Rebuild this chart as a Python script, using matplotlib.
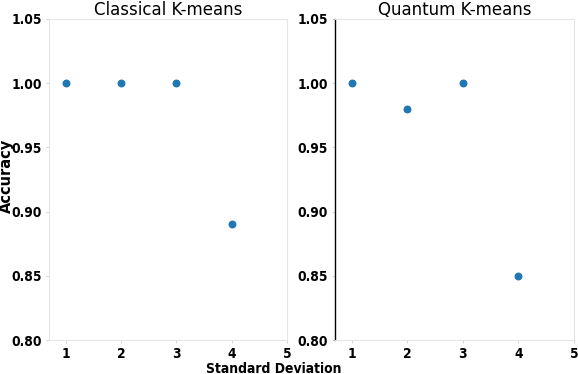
import numpy as np
import matplotlib.pyplot as plt

std_dev = [1, 2, 3, 4]
classical_acc = [1.00, 1.00, 1.00, 0.89]
quantum_acc = [1.00, 0.98, 1.00, 0.85]
titles = ['Classical K-means', 'Quantum K-means']
yticks = [0.80, 0.85, 0.90, 0.95, 1.00, 1.05]
xticks = [1, 2, 3, 4, 5]

fig = plt.figure(figsize=(5.78, 3.74), dpi=100)
ax1 = fig.add_axes([0.0848, 0.0909, 0.4117, 0.8583])
ax2 = fig.add_axes([0.5796, 0.0909, 0.4134, 0.8583])

for ax, acc, title in zip([ax1, ax2], [classical_acc, quantum_acc], titles):
    ax.scatter(std_dev, acc, s=22, color='#1f77b4', zorder=3)
    ax.set_xlim(0.7, 5)
    ax.set_ylim(0.80, 1.05)
    ax.set_xticks(xticks)
    ax.set_yticks(yticks)
    ax.set_yticklabels(['%.2f' % v for v in yticks])
    ax.set_title(title, fontsize=12, pad=3, fontstretch='semi-condensed')
    for lab in ax.get_xticklabels() + ax.get_yticklabels():
        lab.set_fontweight('bold')
        lab.set_fontsize(9.8)
        lab.set_fontstretch('condensed')
    ax.tick_params(length=2, width=0.6, color='#cccccc', pad=3)
    for sp in ax.spines.values():
        sp.set_color('#e6e6e6')
        sp.set_linewidth(0.8)

ax2.spines['left'].set_color('black')
ax2.spines['left'].set_linewidth(1.0)

fig.text(0.011, 0.53, 'Accuracy', rotation=90, fontsize=10.5, fontweight='bold',
         ha='center', va='center')
fig.text(0.473, 0.004, 'Standard Deviation', fontsize=10, fontweight='bold',
         fontstretch='condensed', ha='center', va='baseline')

fig.savefig('out.png', dpi=100)
